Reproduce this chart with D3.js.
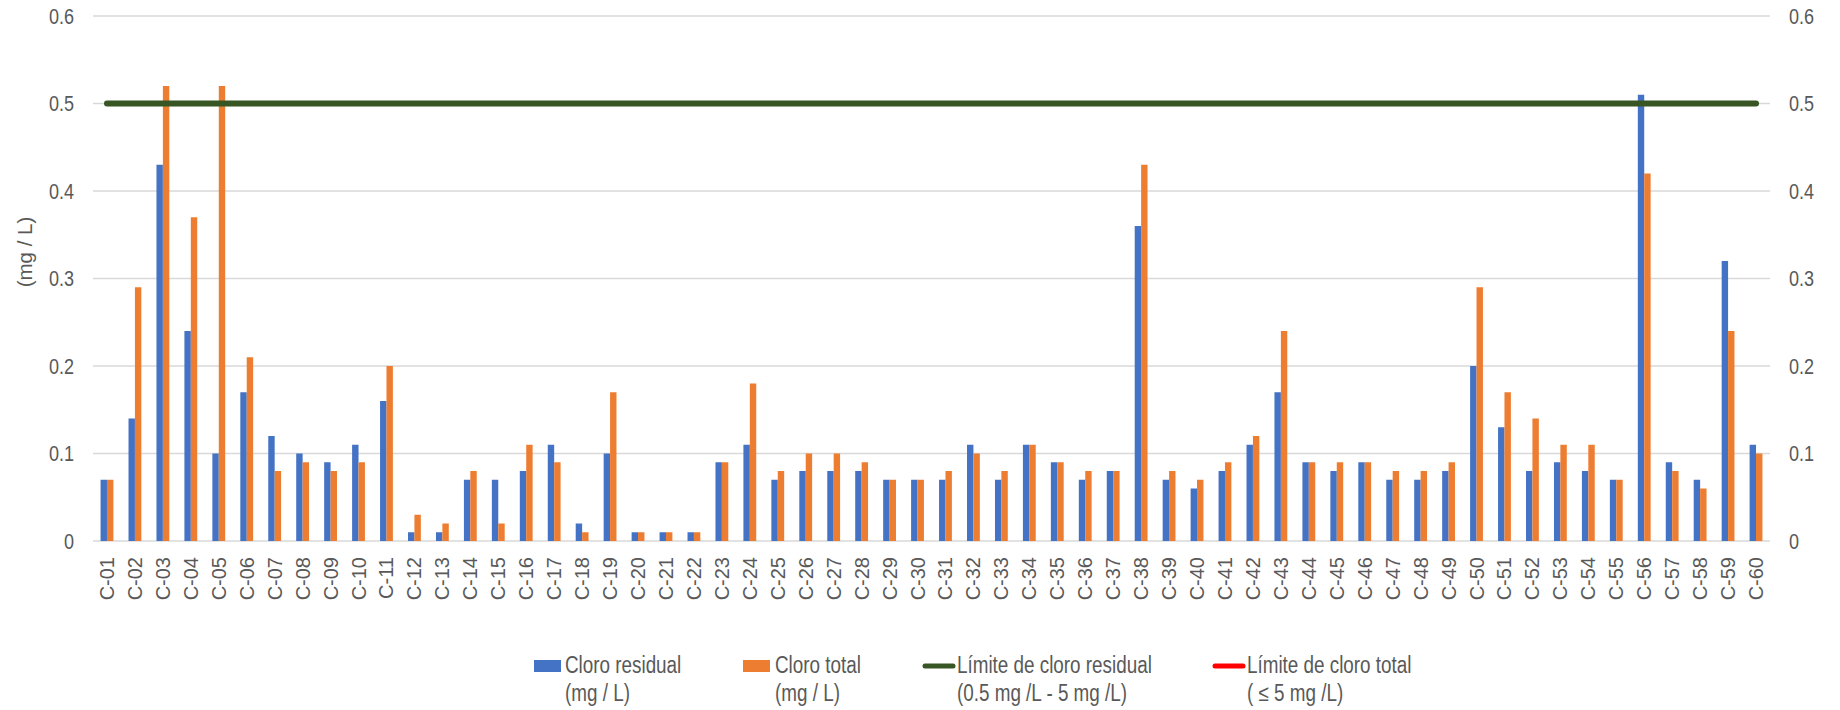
<!DOCTYPE html>
<html>
<head>
<meta charset="utf-8">
<script src="https://cdn.jsdelivr.net/npm/d3@7/dist/d3.min.js"></script>
<style>
  html, body { margin: 0; padding: 0; background: #ffffff; }
  svg { display: block; }
  .tick-label { font-family: "Liberation Sans", Arial, sans-serif; font-size: 22px; fill: #595959; }
  .cat-label { font-family: "Liberation Sans", Arial, sans-serif; font-size: 20px; fill: #595959; }
  .axis-title { font-family: "Liberation Sans", Arial, sans-serif; font-size: 20.5px; fill: #595959; }
  .legend-text { font-family: "Liberation Sans", Arial, sans-serif; font-size: 23px; fill: #595959; }
</style>
</head>
<body>
<svg id="chart" width="1840" height="710"></svg>
<script>
// Sampling points C-01 … C-60
const categories = [
  "C-01","C-02","C-03","C-04","C-05","C-06","C-07","C-08","C-09","C-10",
  "C-11","C-12","C-13","C-14","C-15","C-16","C-17","C-18","C-19","C-20",
  "C-21","C-22","C-23","C-24","C-25","C-26","C-27","C-28","C-29","C-30",
  "C-31","C-32","C-33","C-34","C-35","C-36","C-37","C-38","C-39","C-40",
  "C-41","C-42","C-43","C-44","C-45","C-46","C-47","C-48","C-49","C-50",
  "C-51","C-52","C-53","C-54","C-55","C-56","C-57","C-58","C-59","C-60"
];

// Residual chlorine (mg/L)
const cloroResidual = [
  0.07,0.14,0.43,0.24,0.10,0.17,0.12,0.10,0.09,0.11,
  0.16,0.01,0.01,0.07,0.07,0.08,0.11,0.02,0.10,0.01,
  0.01,0.01,0.09,0.11,0.07,0.08,0.08,0.08,0.07,0.07,
  0.07,0.11,0.07,0.11,0.09,0.07,0.08,0.36,0.07,0.06,
  0.08,0.11,0.17,0.09,0.08,0.09,0.07,0.07,0.08,0.20,
  0.13,0.08,0.09,0.08,0.07,0.51,0.09,0.07,0.32,0.11
];

// Total chlorine (mg/L)
const cloroTotal = [
  0.07,0.29,0.52,0.37,0.52,0.21,0.08,0.09,0.08,0.09,
  0.20,0.03,0.02,0.08,0.02,0.11,0.09,0.01,0.17,0.01,
  0.01,0.01,0.09,0.18,0.08,0.10,0.10,0.09,0.07,0.07,
  0.08,0.10,0.08,0.11,0.09,0.08,0.08,0.43,0.08,0.07,
  0.09,0.12,0.24,0.09,0.09,0.09,0.08,0.08,0.09,0.29,
  0.17,0.14,0.11,0.11,0.07,0.42,0.08,0.06,0.24,0.10
];

// Regulatory limits (mg/L)
const limiteResidual = 0.5;
const limiteTotal = 5;

const yTicks = [0, 0.1, 0.2, 0.3, 0.4, 0.5, 0.6];

const seriesNames = ["Cloro residual", "Cloro total"];
const legendLines = [
  ["Cloro residual", "(mg / L)"],
  ["Cloro total", "(mg / L)"],
  ["Límite de cloro residual", "(0.5 mg /L - 5 mg /L)"],
  ["Límite de cloro total", "( ≤ 5 mg /L)"]
];

const colors = {
  residual: "#4472C4",
  total: "#ED7D31",
  limRes: "#375623",
  limTot: "#FF0000",
  grid: "#d9d9d9"
};

// horizontal squeeze used to give the sans-serif a condensed look
const NARROW = 0.82;

const svg = d3.select("#chart");
const plot = { left: 93, right: 1770, top: 16, bottom: 541 };

const x = d3.scaleBand().domain(categories).range([plot.left, plot.right]).paddingInner(0).paddingOuter(0);
const x1 = d3.scaleBand().domain(seriesNames).range([0, x.bandwidth()]).paddingInner(0).paddingOuter(1.18);
const y = d3.scaleLinear().domain([0, 0.6]).range([plot.bottom, plot.top]);

// Horizontal gridlines
svg.append("g")
  .selectAll("line")
  .data(yTicks)
  .join("line")
  .attr("x1", plot.left).attr("x2", plot.right)
  .attr("y1", d => y(d)).attr("y2", d => y(d))
  .attr("stroke", colors.grid)
  .attr("stroke-width", 1.3);

// Left and right value axes (labels only)
const fmt = d => d === 0 ? "0" : d3.format(".1f")(d);
const leftAxis = d3.axisLeft(y).tickValues(yTicks).tickSize(0).tickPadding(19).tickFormat(fmt);
const rightAxis = d3.axisRight(y).tickValues(yTicks).tickSize(0).tickPadding(19).tickFormat(fmt);

const gl = svg.append("g").attr("transform", `translate(${plot.left},0)`).call(leftAxis);
const gr = svg.append("g").attr("transform", `translate(${plot.right},0)`).call(rightAxis);
[gl, gr].forEach(g => {
  g.select(".domain").remove();
  g.selectAll("text")
    .attr("class", "tick-label")
    .attr("x", function () { return +d3.select(this).attr("x") / NARROW; })
    .attr("transform", `scale(${NARROW},1)`);
});
gl.attr("font-family", null).attr("font-size", null);
gr.attr("font-family", null).attr("font-size", null);

// Y axis title
svg.append("text")
  .attr("class", "axis-title")
  .attr("transform", `translate(32,252) rotate(-90)`)
  .attr("text-anchor", "middle")
  .text("(mg / L)");

// Category axis
const xAxis = d3.axisBottom(x).tickSize(0).tickPadding(0);
const gx = svg.append("g").attr("transform", `translate(0,${plot.bottom})`).call(xAxis);
gx.attr("font-family", null).attr("font-size", null);
gx.select(".domain").remove();
gx.selectAll("text")
  .attr("class", "cat-label")
  .attr("text-anchor", "end")
  .attr("y", 0)
  .attr("x", 0)
  .attr("dy", "0.35em")
  .attr("transform", "translate(0,16) rotate(-90)");

// Clustered bars
const rows = categories.map((c, i) => ({ cat: c, vals: [
  { key: seriesNames[0], v: cloroResidual[i], color: colors.residual },
  { key: seriesNames[1], v: cloroTotal[i], color: colors.total }
]}));

svg.append("g")
  .selectAll("g")
  .data(rows)
  .join("g")
  .attr("transform", d => `translate(${x(d.cat)},0)`)
  .selectAll("rect")
  .data(d => d.vals)
  .join("rect")
  .attr("x", d => x1(d.key))
  .attr("width", x1.bandwidth())
  .attr("y", d => y(d.v))
  .attr("height", d => y(0) - y(d.v))
  .attr("fill", d => d.color);

// Limit lines, clipped to the plot area
svg.append("clipPath").attr("id", "plotClip")
  .append("rect")
  .attr("x", plot.left - 10).attr("y", plot.top - 10)
  .attr("width", plot.right - plot.left + 20).attr("height", plot.bottom - plot.top + 10);

const xFirst = x(categories[0]) + x.bandwidth() / 2;
const xLast = x(categories[categories.length - 1]) + x.bandwidth() / 2;
const lineGen = d3.line().x(d => d[0]).y(d => y(d[1]));

const limits = svg.append("g").attr("clip-path", "url(#plotClip)");
limits.append("path")
  .attr("d", lineGen([[xFirst, limiteTotal], [xLast, limiteTotal]]))
  .attr("stroke", colors.limTot).attr("stroke-width", 6)
  .attr("stroke-linecap", "round").attr("fill", "none");
limits.append("path")
  .attr("d", lineGen([[xFirst, limiteResidual], [xLast, limiteResidual]]))
  .attr("stroke", colors.limRes).attr("stroke-width", 6)
  .attr("stroke-linecap", "round").attr("fill", "none");

// Legend
const legendItems = [
  { type: "rect", color: colors.residual, sx: 534, tx: 565 },
  { type: "rect", color: colors.total, sx: 743, tx: 775 },
  { type: "line", color: colors.limRes, sx: 925, tx: 957 },
  { type: "line", color: colors.limTot, sx: 1215, tx: 1247 }
];
const lg = svg.append("g");
legendItems.forEach((it, i) => {
  if (it.type === "rect") {
    lg.append("rect").attr("x", it.sx).attr("y", 660).attr("width", 27).attr("height", 12).attr("fill", it.color);
  } else {
    lg.append("line").attr("x1", it.sx).attr("x2", it.sx + 28).attr("y1", 666).attr("y2", 666)
      .attr("stroke", it.color).attr("stroke-width", 5).attr("stroke-linecap", "round");
  }
  [673, 701].forEach((ty, j) => {
    lg.append("text")
      .attr("class", "legend-text")
      .attr("transform", `translate(${it.tx},${ty}) scale(${NARROW},1)`)
      .text(legendLines[i][j]);
  });
});
</script>
</body>
</html>
